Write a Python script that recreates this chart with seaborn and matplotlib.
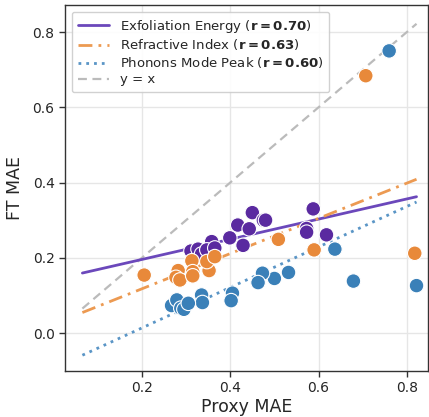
import numpy as np
import pandas as pd
import matplotlib
matplotlib.use("Agg")
import matplotlib.pyplot as plt
import seaborn as sns

# Proxy vs fine-tuned MAE per task
exfo_proxy = [0.450, 0.475, 0.480, 0.417, 0.443, 0.399, 0.429, 0.358, 0.311, 0.327,
              0.335, 0.347, 0.365, 0.588, 0.573, 0.573, 0.618]
exfo_ft = [0.320, 0.300, 0.300, 0.287, 0.277, 0.253, 0.233, 0.243, 0.218, 0.223,
           0.210, 0.221, 0.226, 0.330, 0.278, 0.268, 0.261]

refr_proxy = [0.205, 0.282, 0.277, 0.286, 0.313, 0.315, 0.315, 0.352, 0.347, 0.365,
              0.509, 0.590, 0.818, 0.707]
refr_ft = [0.154, 0.166, 0.148, 0.141, 0.192, 0.163, 0.152, 0.166, 0.190, 0.203,
           0.249, 0.221, 0.212, 0.684]

phon_proxy = [0.760, 0.637, 0.679, 0.822, 0.532, 0.500, 0.473, 0.463, 0.405, 0.402,
              0.335, 0.337, 0.267, 0.279, 0.288, 0.295, 0.305]
phon_ft = [0.750, 0.223, 0.138, 0.126, 0.161, 0.145, 0.159, 0.134, 0.106, 0.086,
           0.101, 0.081, 0.073, 0.088, 0.066, 0.063, 0.079]

task_names = ["Exfoliation Energy", "Refractive Index", "Phonons Mode Peak"]
pearson_r = [0.70, 0.63, 0.60]
fit_slope = [0.268, 0.468, 0.538]
fit_intercept = [0.142, 0.024, -0.094]
fit_range = [0.065, 0.822]

point_colors = ["#5a2aa0", "#e8893a", "#3a80b8"]
line_colors = ["#6b48bb", "#ec9a52", "#5a95c6"]
line_styles = ["-", (0, (5, 2.2, 1, 2.2)), (0, (1, 1.8))]

df = pd.concat([
    pd.DataFrame({"proxy": exfo_proxy, "ft": exfo_ft, "task": task_names[0]}),
    pd.DataFrame({"proxy": refr_proxy, "ft": refr_ft, "task": task_names[1]}),
    pd.DataFrame({"proxy": phon_proxy, "ft": phon_ft, "task": task_names[2]}),
], ignore_index=True)

sns.set_style("whitegrid")
plt.rcParams["font.family"] = ["DejaVu Sans"]

fig = plt.figure(figsize=(4.29, 4.17), dpi=100)
ax = fig.add_axes([65 / 429, 46 / 417, 363 / 429, 366 / 417])

xs = np.array(fit_range)
for i, name in enumerate(task_names):
    ax.plot(xs, fit_slope[i] * xs + fit_intercept[i], color=line_colors[i],
            lw=2.0, linestyle=line_styles[i], zorder=2,
            label=name + r" ($\mathbf{r = %.2f}$)" % pearson_r[i])
ax.plot(xs, xs, color="#bbbbbb", lw=1.6, linestyle=(0, (4, 2.5)), zorder=1, label="y = x")

sns.scatterplot(data=df, x="proxy", y="ft", hue="task", hue_order=task_names,
                palette=point_colors, s=110, edgecolor="white", linewidth=0.8,
                legend=False, ax=ax, zorder=3)

ax.set_xlim(0.0256, 0.848)
ax.set_ylim(-0.101, 0.872)
ax.set_xticks([0.2, 0.4, 0.6, 0.8])
ax.set_yticks([0.0, 0.2, 0.4, 0.6, 0.8])
ax.grid(True, color="#e6e6e6", lw=1.0)
ax.set_axisbelow(True)
for sp in ax.spines.values():
    sp.set_visible(True)
    sp.set_color("#333333")
    sp.set_linewidth(1.0)
ax.tick_params(axis="both", which="major", labelsize=10, length=4, width=1,
               color="#333333", bottom=True, left=True, direction="out")
ax.set_xlabel("Proxy MAE", fontsize=12.5, labelpad=2)
ax.set_ylabel("FT MAE", fontsize=12.5, labelpad=6)

leg = ax.legend(loc="upper left", fontsize=9.5, frameon=True, handlelength=2.4,
                borderpad=0.45, labelspacing=0.22, framealpha=0.9)
leg.get_frame().set_edgecolor("#cccccc")

fig.savefig("out.png", dpi=100)
